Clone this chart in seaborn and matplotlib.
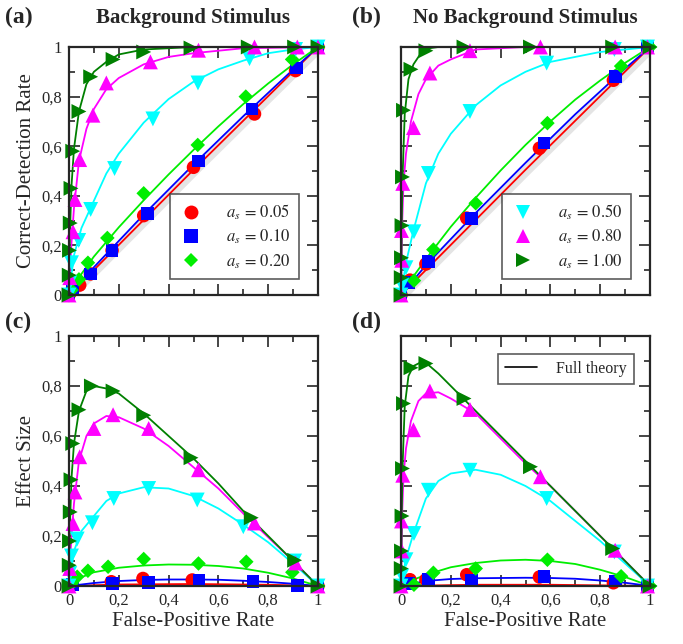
import matplotlib
matplotlib.use('Agg')
import matplotlib.pyplot as plt
import matplotlib.transforms as mtransforms
from matplotlib.lines import Line2D
from matplotlib.ticker import MultipleLocator, FuncFormatter
import seaborn as sns

# series order: a_s = 0.05, 0.10, 0.20, 0.50, 0.80, 1.00
labels = ['0.05', '0.10', '0.20', '0.50', '0.80', '1.00']
colors = ['#ff0000', '#0000ff', '#00ee00', '#00ffff', '#ff00ff', '#008000']
markers = ['o', 's', 'D', 'v', '^', '>']
sizes = [95, 85, 55, 115, 115, 115]

# ---- panel (a): ROC, background stimulus ----
a_pts_x = [
    [0.0, 0.01, 0.043, 0.086, 0.173, 0.30, 0.50, 0.745, 0.91, 1.0],
    [0.0, 0.015, 0.085, 0.173, 0.316, 0.52, 0.735, 0.913, 1.0],
    [0.0, 0.01, 0.04, 0.076, 0.154, 0.30, 0.517, 0.71, 0.896, 1.0],
    [0.0, 0.003, 0.01, 0.039, 0.087, 0.183, 0.337, 0.518, 0.725, 0.91, 1.0],
    [0.0, 0.003, 0.016, 0.024, 0.043, 0.096, 0.15, 0.327, 0.52, 0.745, 0.917, 1.0],
    [0.0, 0.001, 0.002, 0.005, 0.008, 0.015, 0.04, 0.087, 0.177, 0.30, 0.49, 0.72, 0.906, 1.0],
]
a_pts_y = [
    [0.0, 0.015, 0.04, 0.085, 0.18, 0.32, 0.515, 0.73, 0.905, 1.0],
    [0.0, 0.02, 0.085, 0.178, 0.33, 0.54, 0.75, 0.915, 1.0],
    [0.0, 0.02, 0.063, 0.13, 0.23, 0.41, 0.605, 0.80, 0.95, 1.0],
    [0.0, 0.05, 0.13, 0.22, 0.345, 0.51, 0.71, 0.855, 0.953, 0.99, 1.0],
    [0.0, 0.07, 0.255, 0.385, 0.546, 0.725, 0.855, 0.94, 0.987, 1.0, 1.0, 1.0],
    [0.0, 0.08, 0.18, 0.29, 0.43, 0.58, 0.74, 0.88, 0.95, 0.98, 0.996, 1.0, 1.0, 1.0],
]
a_cur_x = [
    [0.0, 0.5, 1.0],
    [0.0, 0.1, 0.3, 0.5, 0.7, 0.9, 1.0],
    [0.0, 0.05, 0.1, 0.2, 0.3, 0.4, 0.5, 0.6, 0.7, 0.8, 0.9, 1.0],
    [0.0, 0.02, 0.05, 0.1, 0.15, 0.2, 0.3, 0.4, 0.5, 0.6, 0.7, 0.8, 0.9, 1.0],
    [0.0, 0.005, 0.01, 0.02, 0.04, 0.07, 0.1, 0.15, 0.2, 0.3, 0.4, 0.5, 0.7, 1.0],
    [0.0, 0.003, 0.006, 0.01, 0.02, 0.04, 0.07, 0.1, 0.15, 0.2, 0.3, 0.5, 1.0],
]
a_cur_y = [
    [0.0, 0.505, 1.0],
    [0.0, 0.112, 0.324, 0.526, 0.721, 0.909, 1.0],
    [0.0, 0.085, 0.155, 0.273, 0.382, 0.486, 0.585, 0.68, 0.77, 0.853, 0.93, 1.0],
    [0.0, 0.16, 0.27, 0.38, 0.49, 0.57, 0.695, 0.79, 0.86, 0.91, 0.945, 0.975, 0.99, 1.0],
    [0.0, 0.12, 0.21, 0.35, 0.54, 0.67, 0.75, 0.83, 0.875, 0.93, 0.96, 0.975, 0.995, 1.0],
    [0.0, 0.22, 0.32, 0.44, 0.59, 0.74, 0.85, 0.90, 0.94, 0.97, 0.99, 1.0, 1.0],
]

# ---- panel (b): ROC, no background stimulus ----
b_pts_x = [
    [0.0, 0.036, 0.10, 0.264, 0.556, 0.853, 0.99],
    [0.0, 0.03, 0.11, 0.284, 0.574, 0.86, 0.99],
    [0.0, 0.052, 0.13, 0.30, 0.588, 0.884, 1.0],
    [0.0, 0.003, 0.02, 0.052, 0.11, 0.277, 0.585, 0.857, 0.99],
    [0.0, 0.002, 0.003, 0.007, 0.05, 0.116, 0.277, 0.56, 0.86, 0.99],
    [0.0, 0.001, 0.002, 0.004, 0.006, 0.01, 0.04, 0.1, 0.253, 0.52, 0.85, 1.0],
]
b_pts_y = [
    [0.0, 0.06, 0.125, 0.31, 0.592, 0.866, 1.0],
    [0.0, 0.05, 0.135, 0.307, 0.613, 0.88, 1.0],
    [0.0, 0.058, 0.183, 0.37, 0.693, 0.923, 1.0],
    [0.0, 0.04, 0.11, 0.255, 0.49, 0.74, 0.935, 0.99, 1.0],
    [0.0, 0.26, 0.14, 0.45, 0.675, 0.895, 0.985, 1.0, 1.0, 1.0],
    [0.0, 0.07, 0.15, 0.28, 0.476, 0.745, 0.91, 0.985, 1.0, 1.0, 1.0, 1.0],
]
b_cur_x = [
    [0.0, 0.5, 1.0],
    [0.0, 0.1, 0.3, 0.5, 0.7, 0.9, 1.0],
    [0.0, 0.05, 0.1, 0.2, 0.3, 0.4, 0.5, 0.6, 0.7, 0.8, 0.9, 1.0],
    [0.0, 0.02, 0.05, 0.1, 0.15, 0.2, 0.3, 0.4, 0.5, 0.6, 0.7, 0.8, 0.9, 1.0],
    [0.0, 0.005, 0.01, 0.02, 0.04, 0.07, 0.1, 0.15, 0.2, 0.3, 0.5, 1.0],
    [0.0, 0.003, 0.007, 0.015, 0.03, 0.05, 0.08, 0.1, 0.15, 1.0],
]
b_cur_y = [
    [0.0, 0.505, 1.0],
    [0.0, 0.12, 0.331, 0.533, 0.729, 0.913, 1.0],
    [0.0, 0.075, 0.145, 0.275, 0.392, 0.502, 0.605, 0.70, 0.788, 0.865, 0.936, 1.0],
    [0.0, 0.13, 0.26, 0.45, 0.57, 0.65, 0.765, 0.845, 0.90, 0.94, 0.96, 0.98, 0.99, 1.0],
    [0.0, 0.3, 0.45, 0.57, 0.70, 0.81, 0.87, 0.925, 0.95, 0.99, 1.0, 1.0],
    [0.0, 0.3, 0.5, 0.73, 0.87, 0.93, 0.975, 0.993, 1.0, 1.0],
]

# ---- panel (c): effect size, background stimulus ----
c_pts_x = [
    [0.0, 0.01, 0.17, 0.297, 0.495, 1.0],
    [0.0, 0.015, 0.174, 0.32, 0.522, 0.739, 0.917, 1.0],
    [0.0, 0.01, 0.033, 0.076, 0.157, 0.30, 0.52, 0.712, 0.897, 1.0],
    [0.0, 0.003, 0.01, 0.033, 0.094, 0.18, 0.32, 0.515, 0.70, 0.906, 1.0],
    [0.0, 0.003, 0.016, 0.024, 0.043, 0.1, 0.177, 0.32, 0.52, 0.745, 0.91, 1.0],
    [0.0, 0.001, 0.002, 0.005, 0.008, 0.015, 0.04, 0.09, 0.177, 0.30, 0.49, 0.732, 0.906, 1.0],
]
c_pts_y = [
    [0.0, 0.005, 0.017, 0.03, 0.024, 0.0],
    [0.0, 0.005, 0.01, 0.015, 0.024, 0.017, 0.001, 0.0],
    [0.0, 0.01, 0.037, 0.061, 0.077, 0.108, 0.09, 0.097, 0.055, 0.0],
    [0.0, 0.05, 0.12, 0.188, 0.253, 0.35, 0.39, 0.344, 0.237, 0.1, 0.0],
    [0.0, 0.07, 0.25, 0.376, 0.517, 0.63, 0.685, 0.63, 0.465, 0.252, 0.092, 0.0],
    [0.0, 0.083, 0.18, 0.296, 0.425, 0.57, 0.705, 0.80, 0.78, 0.683, 0.513, 0.273, 0.103, 0.0],
]
c_cur_x = [
    [0.0, 0.2, 0.5, 0.8, 1.0],
    [0.0, 0.1, 0.2, 0.3, 0.4, 0.5, 0.6, 0.7, 0.8, 0.9, 1.0],
    [0.0, 0.05, 0.1, 0.2, 0.3, 0.4, 0.5, 0.6, 0.7, 0.8, 0.9, 1.0],
    [0.0, 0.02, 0.05, 0.1, 0.15, 0.2, 0.3, 0.4, 0.5, 0.6, 0.7, 0.8, 0.9, 1.0],
    [0.0, 0.005, 0.01, 0.02, 0.04, 0.07, 0.1, 0.15, 0.2, 0.3, 0.4, 0.5, 0.6, 0.7, 0.8, 0.9, 1.0],
    [0.0, 0.003, 0.006, 0.01, 0.02, 0.04, 0.07, 0.1, 0.15, 0.2, 0.3, 0.4, 0.5, 0.6, 0.7, 0.8, 0.9, 1.0],
]
c_cur_y = [
    [0.0, 0.006, 0.008, 0.005, 0.0],
    [0.0, 0.012, 0.02, 0.024, 0.026, 0.026, 0.025, 0.021, 0.016, 0.009, 0.0],
    [0.0, 0.035, 0.055, 0.073, 0.082, 0.086, 0.085, 0.08, 0.07, 0.053, 0.03, 0.0],
    [0.0, 0.14, 0.22, 0.28, 0.34, 0.37, 0.395, 0.39, 0.36, 0.31, 0.245, 0.175, 0.09, 0.0],
    [0.0, 0.115, 0.2, 0.33, 0.50, 0.60, 0.65, 0.68, 0.675, 0.63, 0.56, 0.475, 0.39, 0.29, 0.195, 0.10, 0.0],
    [0.0, 0.22, 0.31, 0.43, 0.57, 0.70, 0.78, 0.80, 0.79, 0.77, 0.69, 0.60, 0.51, 0.41, 0.30, 0.20, 0.10, 0.0],
]

# ---- panel (d): effect size, no background stimulus ----
d_pts_x = b_pts_x
d_pts_y = [
    [0.0, 0.025, 0.025, 0.045, 0.036, 0.013, 0.0],
    [0.0, 0.01, 0.025, 0.023, 0.039, 0.02, 0.0],
    [0.0, 0.005, 0.053, 0.07, 0.105, 0.039, 0.0],
    [0.0, 0.04, 0.105, 0.21, 0.383, 0.463, 0.35, 0.136, 0.0],
    [0.0, 0.26, 0.14, 0.443, 0.625, 0.78, 0.706, 0.437, 0.143, 0.0],
    [0.0, 0.07, 0.14, 0.28, 0.47, 0.73, 0.873, 0.89, 0.75, 0.477, 0.15, 0.0],
]
d_cur_x = [
    [0.0, 0.3, 0.6, 1.0],
    [0.0, 0.05, 0.1, 0.2, 0.3, 0.5, 0.6, 0.7, 0.8, 0.9, 1.0],
    [0.0, 0.05, 0.1, 0.2, 0.3, 0.4, 0.5, 0.6, 0.7, 0.8, 0.9, 1.0],
    [0.0, 0.02, 0.05, 0.1, 0.15, 0.2, 0.3, 0.4, 0.5, 0.6, 0.7, 0.8, 0.9, 1.0],
    [0.0, 0.005, 0.01, 0.02, 0.04, 0.07, 0.1, 0.15, 0.2, 0.3, 0.4, 0.5, 0.6, 0.7, 0.8, 0.9, 1.0],
    [0.0, 0.003, 0.007, 0.015, 0.03, 0.05, 0.08, 0.1, 0.15, 0.2, 0.3, 0.4, 0.5, 0.6, 0.7, 0.8, 0.9, 1.0],
]
d_cur_y = [
    [0.0, 0.005, 0.005, 0.0],
    [0.0, 0.01, 0.02, 0.028, 0.031, 0.033, 0.032, 0.029, 0.022, 0.013, 0.0],
    [0.0, 0.025, 0.045, 0.075, 0.092, 0.102, 0.105, 0.10, 0.088, 0.065, 0.036, 0.0],
    [0.0, 0.11, 0.21, 0.35, 0.42, 0.45, 0.465, 0.445, 0.40, 0.34, 0.26, 0.18, 0.09, 0.0],
    [0.0, 0.3, 0.44, 0.55, 0.66, 0.74, 0.77, 0.775, 0.75, 0.69, 0.59, 0.49, 0.40, 0.30, 0.20, 0.10, 0.0],
    [0.0, 0.3, 0.5, 0.72, 0.84, 0.88, 0.895, 0.893, 0.85, 0.80, 0.70, 0.60, 0.50, 0.40, 0.30, 0.20, 0.10, 0.0],
]

sns.set_style('ticks')
plt.rcParams['font.family'] = ['Liberation Serif', 'DejaVu Serif']
plt.rcParams['mathtext.fontset'] = 'stix'

fig = plt.figure(figsize=(6.83, 6.44), dpi=100)
W, H = 683, 644


def add_ax(left, top, right, bottom):
    return fig.add_axes([left / W, 1 - bottom / H, (right - left) / W, (bottom - top) / H])


ax_a = add_ax(69, 47, 318, 295)
ax_b = add_ax(401, 47, 650, 295)
ax_c = add_ax(69, 336, 318, 586)
ax_d = add_ax(401, 336, 650, 586)


def fmt(v, pos):
    if abs(v) < 1e-9:
        return '0'
    if abs(v - 1) < 1e-9:
        return '1'
    return f'{v:.1f}'.replace('.', ',')


def draw(ax, px, py, cx, cy, shadow=False):
    for i in range(6):
        if shadow and i < 2:
            off = mtransforms.offset_copy(ax.transData, fig=fig, x=2, y=-3, units='dots')
            ax.plot(cx[i], cy[i], color='#e4e4e4', lw=4, transform=off, zorder=1,
                    solid_capstyle='butt')
        sns.lineplot(x=cx[i], y=cy[i], ax=ax, color=colors[i], lw=1.3,
                     estimator=None, sort=False, zorder=2)
    for i in range(6):
        sns.scatterplot(x=px[i], y=py[i], ax=ax, color=colors[i], marker=markers[i],
                        s=sizes[i], edgecolor='none', linewidth=0, clip_on=False,
                        zorder=3 + i)
    ax.set_xlim(0, 1)
    ax.set_ylim(0, 1)
    ax.xaxis.set_major_locator(MultipleLocator(0.2))
    ax.xaxis.set_minor_locator(MultipleLocator(0.1))
    ax.yaxis.set_major_locator(MultipleLocator(0.2))
    ax.yaxis.set_minor_locator(MultipleLocator(0.1))
    ax.xaxis.set_major_formatter(FuncFormatter(fmt))
    ax.yaxis.set_major_formatter(FuncFormatter(fmt))
    ax.tick_params(which='both', direction='in', top=True, right=True,
                   labelsize=12, width=1.2, pad=5)
    ax.tick_params(which='major', length=8)
    ax.tick_params(which='minor', length=4)
    for sp in ax.spines.values():
        sp.set_linewidth(1.6)
        sp.set_zorder(20)
    ax.set_xlabel('')
    ax.set_ylabel('')


draw(ax_a, a_pts_x, a_pts_y, a_cur_x, a_cur_y, shadow=True)
draw(ax_b, b_pts_x, b_pts_y, b_cur_x, b_cur_y, shadow=True)
draw(ax_c, c_pts_x, c_pts_y, c_cur_x, c_cur_y)
draw(ax_d, d_pts_x, d_pts_y, d_cur_x, d_cur_y)

ax_a.tick_params(labelbottom=False)
ax_b.tick_params(labelbottom=False, labelleft=False)
ax_d.tick_params(labelleft=False)

ax_a.set_ylabel('Correct-Detection Rate', fontsize=15, labelpad=4)
ax_c.set_ylabel('Effect Size', fontsize=15, labelpad=4)
ax_c.set_xlabel('False-Positive Rate', fontsize=15, labelpad=2)
ax_d.set_xlabel('False-Positive Rate', fontsize=15, labelpad=2)


def leg_handles(idx):
    return [Line2D([], [], ls='none', marker=markers[i], color=colors[i],
                   markersize=10 if markers[i] != 'D' else 7.5, markeredgewidth=0)
            for i in idx]


leg_kw = dict(fontsize=12, frameon=True, fancybox=False, edgecolor='#333333',
              handletextpad=1.3, borderpad=0.5, labelspacing=0.35, handlelength=1.6,
              borderaxespad=0)
la = ax_a.legend(leg_handles([0, 1, 2]), [rf'$a_s\,=\,{labels[i]}$' for i in [0, 1, 2]],
                 loc='lower right', bbox_to_anchor=(0.925, 0.065), **leg_kw)
lb = ax_b.legend(leg_handles([3, 4, 5]), [rf'$a_s\,=\,{labels[i]}$' for i in [3, 4, 5]],
                 loc='lower right', bbox_to_anchor=(0.925, 0.065), **leg_kw)
ld = ax_d.legend([Line2D([], [], color='black', lw=1.2)], ['Full theory'],
                 loc='upper right', bbox_to_anchor=(0.935, 0.93), fontsize=11.5,
                 frameon=True, fancybox=False, edgecolor='#333333', handlelength=2.0,
                 borderpad=0.45, handletextpad=1.2, borderaxespad=0)
for lg in (la, lb, ld):
    lg.get_frame().set_linewidth(1.2)
    lg.set_zorder(30)

fig.text(5 / W, 1 - 17 / H, '(a)', fontsize=17, fontweight='bold', va='center', ha='left')
fig.text(352 / W, 1 - 17 / H, '(b)', fontsize=17, fontweight='bold', va='center', ha='left')
fig.text(5 / W, 1 - 322 / H, '(c)', fontsize=17, fontweight='bold', va='center', ha='left')
fig.text(352 / W, 1 - 322 / H, '(d)', fontsize=17, fontweight='bold', va='center', ha='left')
fig.text(193 / W, 1 - 18 / H, 'Background Stimulus', fontsize=15, fontweight='bold',
         va='center', ha='center')
fig.text(525 / W, 1 - 18 / H, 'No Background Stimulus', fontsize=15, fontweight='bold',
         va='center', ha='center')

fig.savefig('out.png', dpi=100)
